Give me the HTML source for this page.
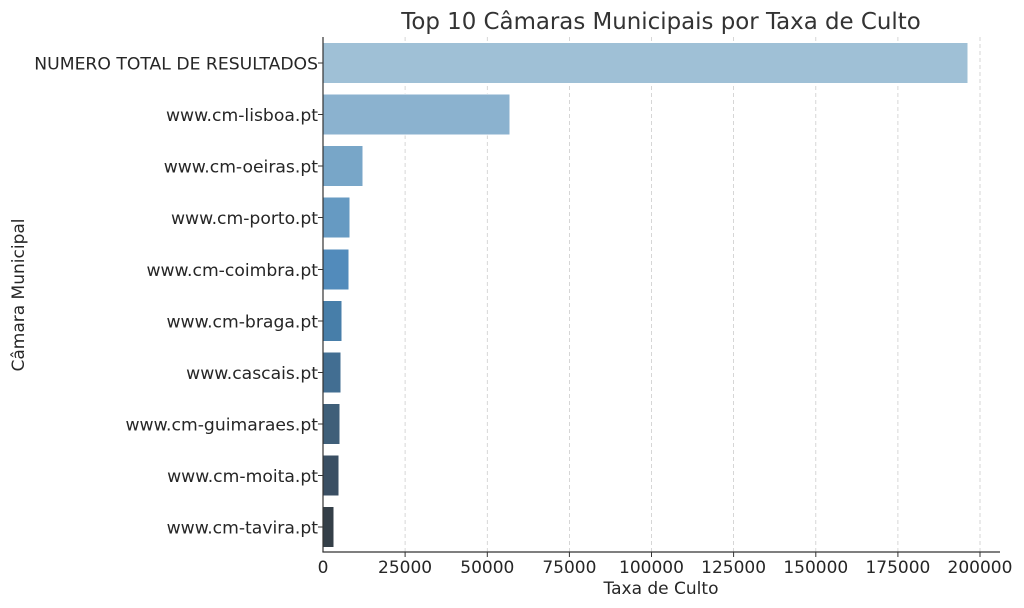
<!DOCTYPE html>
<html><head><meta charset="utf-8"><style>body{margin:0;background:#fff}svg{display:block}</style></head>
<body>
<svg width="1024" height="608" xmlns="http://www.w3.org/2000/svg" font-family="DejaVu Sans, Liberation Sans, sans-serif" fill="#262626">
<rect width="1024" height="608" fill="#fff"/>
<g stroke="#cccccc" stroke-dasharray="4,3" stroke-width="0.8">
<line x1="405.1" y1="37" x2="405.1" y2="552"/><line x1="487.3" y1="37" x2="487.3" y2="552"/>
<line x1="569.4" y1="37" x2="569.4" y2="552"/><line x1="651.5" y1="37" x2="651.5" y2="552"/>
<line x1="733.6" y1="37" x2="733.6" y2="552"/><line x1="815.8" y1="37" x2="815.8" y2="552"/>
<line x1="897.9" y1="37" x2="897.9" y2="552"/><line x1="980" y1="37" x2="980" y2="552"/>
</g>
<g stroke="#fff" stroke-width="1">
<rect x="323" y="42.5" width="645" height="41" fill="#9fc0d6"/>
<rect x="323" y="94" width="187" height="41" fill="#8bb2cf"/>
<rect x="323" y="145.5" width="40" height="41" fill="#78a6c8"/>
<rect x="323" y="197" width="27" height="41" fill="#669ac2"/>
<rect x="323" y="249" width="26" height="41" fill="#528bbb"/>
<rect x="323" y="300.5" width="19" height="41" fill="#477ea9"/>
<rect x="323" y="352" width="18" height="41" fill="#426e92"/>
<rect x="323" y="403.5" width="17" height="41" fill="#3f5f79"/>
<rect x="323" y="455" width="16" height="41" fill="#3a4f63"/>
<rect x="323" y="506.5" width="11" height="41" fill="#343f48"/>
</g>
<g stroke="#333" stroke-width="1.2">
<line x1="323" y1="37" x2="323" y2="552"/><line x1="322.4" y1="552" x2="1000" y2="552"/>
</g>
<g stroke="#333" stroke-width="1">
<line x1="318" y1="63" x2="323" y2="63"/><line x1="318" y1="114.5" x2="323" y2="114.5"/><line x1="318" y1="166" x2="323" y2="166"/><line x1="318" y1="217.5" x2="323" y2="217.5"/><line x1="318" y1="269.5" x2="323" y2="269.5"/><line x1="318" y1="321" x2="323" y2="321"/><line x1="318" y1="372.5" x2="323" y2="372.5"/><line x1="318" y1="424" x2="323" y2="424"/><line x1="318" y1="475.5" x2="323" y2="475.5"/><line x1="318" y1="527" x2="323" y2="527"/>
<line x1="405.1" y1="552" x2="405.1" y2="557"/><line x1="487.3" y1="552" x2="487.3" y2="557"/><line x1="569.4" y1="552" x2="569.4" y2="557"/><line x1="651.5" y1="552" x2="651.5" y2="557"/><line x1="733.6" y1="552" x2="733.6" y2="557"/><line x1="815.8" y1="552" x2="815.8" y2="557"/><line x1="897.9" y1="552" x2="897.9" y2="557"/><line x1="980" y1="552" x2="980" y2="557"/>
</g>
<g font-size="17.2" text-anchor="end">
<text x="318" y="69.5">NUMERO TOTAL DE RESULTADOS</text>
<text x="318" y="121">www.cm-lisboa.pt</text>
<text x="318" y="172.5">www.cm-oeiras.pt</text>
<text x="318" y="224">www.cm-porto.pt</text>
<text x="318" y="276">www.cm-coimbra.pt</text>
<text x="318" y="327.5">www.cm-braga.pt</text>
<text x="318" y="379">www.cascais.pt</text>
<text x="318" y="430.5">www.cm-guimaraes.pt</text>
<text x="318" y="482">www.cm-moita.pt</text>
<text x="318" y="533.5">www.cm-tavira.pt</text>
</g>
<g font-size="17" text-anchor="middle">
<text x="323" y="573">0</text><text x="405.1" y="573">25000</text><text x="487.3" y="573">50000</text><text x="569.4" y="573">75000</text><text x="651.5" y="573">100000</text><text x="733.6" y="573">125000</text><text x="815.8" y="573">150000</text><text x="897.9" y="573">175000</text><text x="980" y="573">200000</text>
<text x="661" y="594">Taxa de Culto</text>
<text x="661" y="29" font-size="22.9" fill="#333">Top 10 Câmaras Municipais por Taxa de Culto</text>
<text transform="translate(24,295) rotate(-90)">Câmara Municipal</text>
</g>
</svg>
</body></html>
